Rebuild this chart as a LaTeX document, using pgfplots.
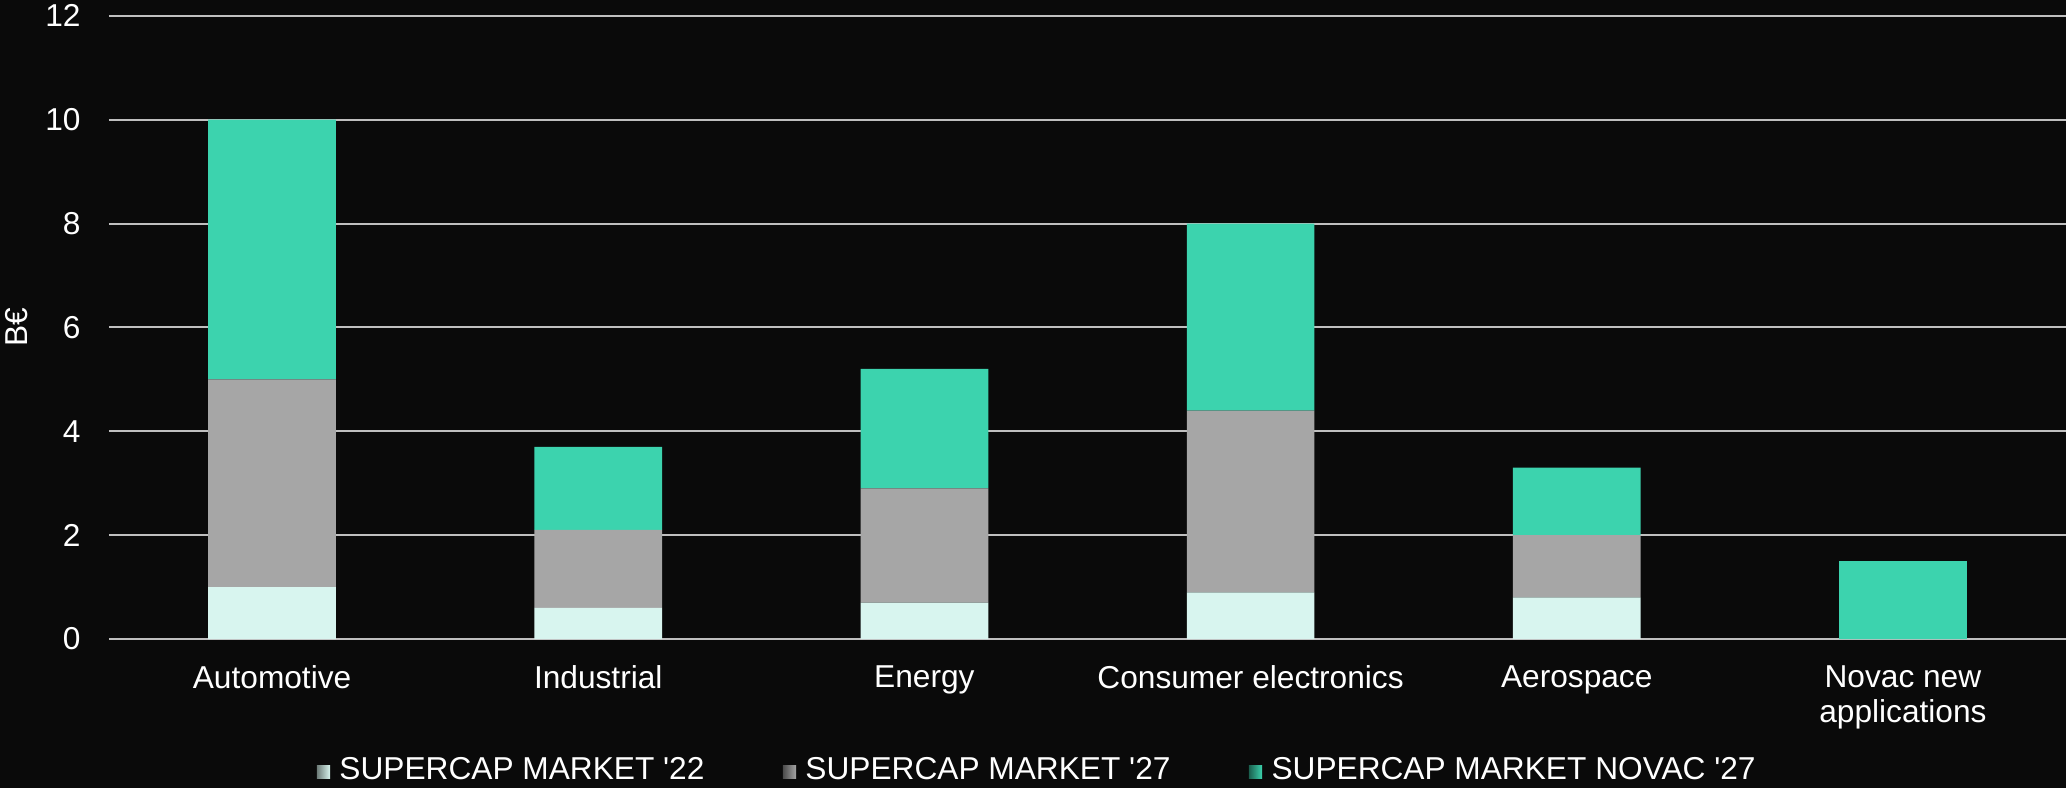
\documentclass[border=0pt]{standalone}
\usepackage{fontspec}
\setmainfont{Liberation Sans}
\usepackage{pgfplots}
\pgfplotsset{compat=1.18}
\definecolor{bgc}{HTML}{0A0A0A}
\definecolor{novac}{HTML}{3CD3AE}
\definecolor{grayb}{HTML}{A6A6A6}
\definecolor{lightb}{HTML}{D8F5EF}
\definecolor{gridc}{HTML}{BFBFBF}
\begin{document}
\begin{tikzpicture}[x=1pt,y=1pt]
\fill[bgc] (-32.7,-44.7) rectangle (587.1,191.7);
\path[use as bounding box] (-32.7,-44.7) rectangle (587.1,191.7);
\begin{axis}[
  at={(0,0)}, anchor=south west,
  scale only axis, width=587.1pt, height=186.96pt,
  ybar stacked, bar width=38.3pt,
  xmin=-0.5, xmax=5.5, ymin=0, ymax=12,
  ytick={0,2,...,12},
  xtick={0,1,2,3,4,5},
  xticklabels={Automotive, Industrial, Energy, Consumer electronics, Aerospace, {Novac new\\applications}},
  ticklabel style={text=white, font=\fontsize{9.5}{10.4}\selectfont},
  /pgf/number format/assume math mode=true,
  xticklabel style={align=center, yshift=-4.5pt},
  yticklabel style={xshift=-5pt},
  ylabel={B€},
  ylabel style={text=white, font=\fontsize{9.5}{11}\selectfont, yshift=-1.6pt},
  axis line style={draw=none},
  major tick length=0pt,
  ymajorgrids, grid style={gridc, line width=0.6pt},
  legend style={at={(axis description cs:0.4755,-0.212)}, anchor=center, draw=none, fill=none, text=white,
    font=\fontsize{9.5}{11}\selectfont,
    /tikz/every even column/.append style={column sep=21.5pt}},
  legend columns=-1,
  legend cell align=left,
]
\addplot[fill=lightb, draw=none,
  legend image code/.code={\shade[left color=black!50!lightb, right color=lightb] (0pt,-2.2pt) rectangle (4pt,1.8pt); \path (4.8pt,0pt);}]
  coordinates {(0,1) (1,0.6) (2,0.7) (3,0.9) (4,0.8) (5,0)};
\addplot[fill=grayb, draw=none,
  legend image code/.code={\shade[left color=black!55!grayb, right color=grayb] (0pt,-2.2pt) rectangle (4pt,1.8pt); \path (4.8pt,0pt);}]
  coordinates {(0,4) (1,1.5) (2,2.2) (3,3.5) (4,1.2) (5,0)};
\addplot[fill=novac, draw=none,
  legend image code/.code={\shade[left color=black!55!novac, right color=novac] (0pt,-2.2pt) rectangle (4pt,1.8pt); \path (4.8pt,0pt);}]
  coordinates {(0,5) (1,1.6) (2,2.3) (3,3.6) (4,1.3) (5,1.5)};
\legend{SUPERCAP MARKET \textquotesingle22, SUPERCAP MARKET \textquotesingle27, SUPERCAP MARKET NOVAC \textquotesingle27}
\end{axis}
\end{tikzpicture}
\end{document}
